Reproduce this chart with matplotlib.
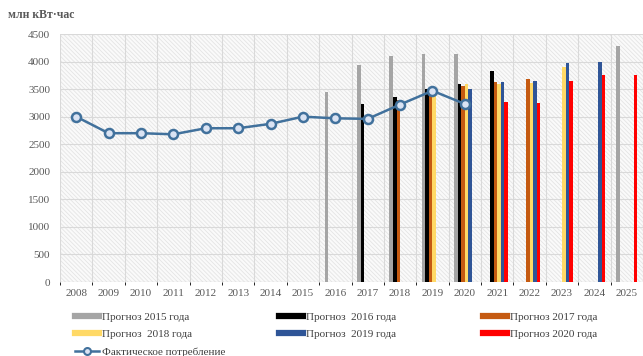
import matplotlib
matplotlib.use("Agg")
import matplotlib.pyplot as plt
import numpy as np
from matplotlib.lines import Line2D
from matplotlib.patches import Rectangle

nan = np.nan
years = [str(y) for y in range(2008, 2026)]

# forecasts by year of issue (млн кВт·час)
f2015 = [nan] * 8 + [3440, 3930, 4100, 4140, 4140, nan, nan, nan, nan, 4280]
f2016 = [nan] * 9 + [3230, 3350, 3500, 3600, 3830, nan, nan, nan, nan]
f2017 = [nan] * 10 + [3300, 3480, 3560, 3620, 3690, nan, nan, nan]
f2018 = [nan] * 11 + [3470, 3590, 3600, 3610, 3900, nan, nan]
f2019 = [nan] * 12 + [3500, 3620, 3650, 3970, 4000, nan]
f2020 = [nan] * 13 + [3260, 3250, 3650, 3760, 3760]
actual = [3000, 2700, 2700, 2680, 2790, 2790, 2870, 3000, 2970, 2960, 3220, 3470, 3230]

series = [
    ("Прогноз 2015 года", f2015, "#A5A5A5"),
    ("Прогноз  2016 года", f2016, "#000000"),
    ("Прогноз 2017 года", f2017, "#C55A11"),
    ("Прогноз  2018 года", f2018, "#FFD966"),
    ("Прогноз  2019 года", f2019, "#2F5597"),
    ("Прогноз 2020 года", f2020, "#FF0000"),
]

plt.rcParams["font.family"] = ["Liberation Serif", "DejaVu Serif"]
plt.rcParams["hatch.linewidth"] = 0.6
fig = plt.figure(figsize=(6.43, 3.56), dpi=100)
ax = fig.add_axes([60 / 643, 1 - 282 / 356, 1 - 60 / 643, 248 / 356])

# hatched background like the Excel pattern fill
ax.add_patch(Rectangle((0, 0), 1, 1, transform=ax.transAxes, facecolor="#fafafa",
                       edgecolor="#e4e4e4", hatch="\\" * 8, lw=0, zorder=0))

x = np.arange(len(years))
w = 0.11
for i, (label, vals, color) in enumerate(series):
    ax.bar(x + (i - 2.5) * w, vals, w, color=color, zorder=3)

ax.plot(x[:len(actual)], actual, color="#41719C", lw=1.8, marker="o", ms=6.5,
        mfc="#DAE3F3", mec="#41719C", mew=1.8, zorder=5)

ax.set_xlim(-0.5, 17.34)
ax.set_ylim(0, 4500)
ax.set_yticks(np.arange(0, 4501, 500))
ax.set_xticks(x)
ax.set_xticklabels(years)
ax.set_xticks(np.arange(-0.5, 18, 1), minor=True)
ax.tick_params(axis="both", length=0, labelsize=8, labelcolor="#595959")
ax.tick_params(axis="y", pad=7)
ax.tick_params(axis="x", pad=5)
ax.grid(axis="y", color="#d9d9d9", lw=0.8, zorder=1)
ax.grid(axis="x", which="minor", color="#d9d9d9", lw=0.8, zorder=1)
for s in ax.spines.values():
    s.set_visible(False)
ax.axhline(0, color="#d0d0d0", lw=0.8, zorder=2)

fig.text(8 / 643, 1 - 15 / 356, "млн кВт·час", fontsize=8.5, fontweight="bold",
         color="#595959", va="center", ha="left")

bar_handles = [Line2D([], [], color=c, lw=4.5) for _, _, c in series]
order = [0, 3, 1, 4, 2, 5]
leg = fig.legend([bar_handles[i] for i in order], [series[i][0] for i in order],
                 ncol=3, loc="upper left", bbox_to_anchor=(75 / 643, 1 - 312 / 356),
                 frameon=False, fontsize=8, handlelength=2.2, handletextpad=0.25,
                 columnspacing=7.8, labelspacing=0.65, borderpad=0, borderaxespad=0)
for t in leg.get_texts():
    t.set_color("#404040")

line_handle = Line2D([], [], color="#41719C", lw=1.8, marker="o", ms=5,
                     mfc="#DAE3F3", mec="#41719C", mew=1.5)
leg2 = fig.legend([line_handle], ["Фактическое потребление"], loc="upper left",
                  bbox_to_anchor=(75 / 643, 1 - 347 / 356), frameon=False, fontsize=8,
                  handlelength=2.2, handletextpad=0.25, borderpad=0, borderaxespad=0)
for t in leg2.get_texts():
    t.set_color("#404040")

fig.savefig("out.png", dpi=100)
